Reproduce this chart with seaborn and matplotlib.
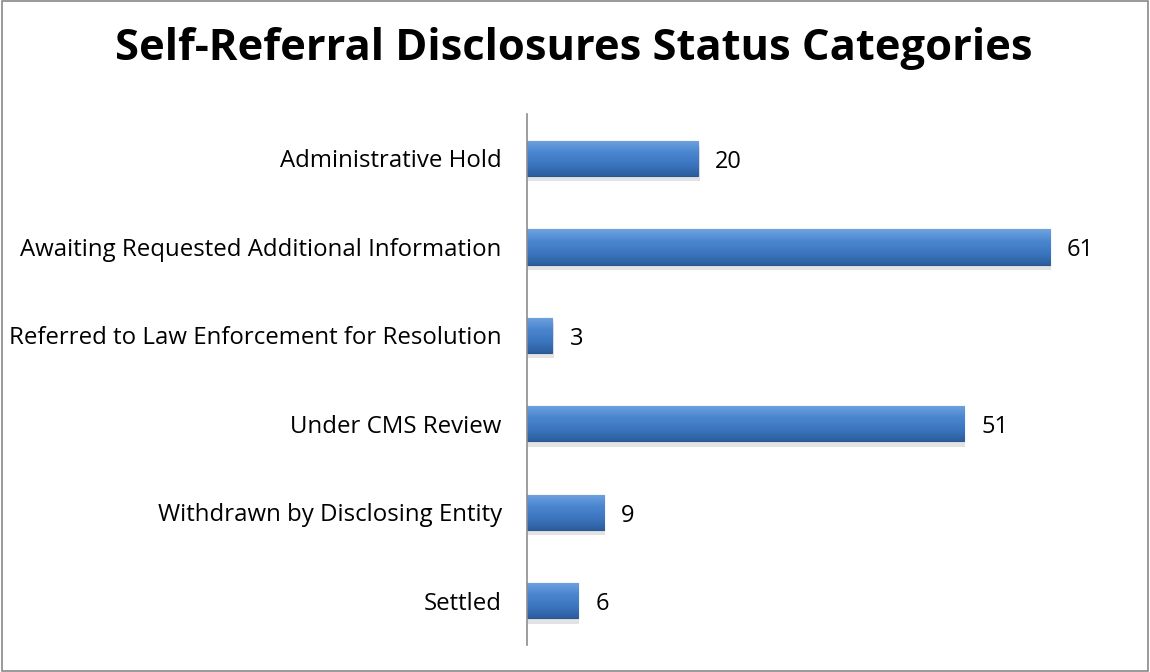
import numpy as np
import pandas as pd
import matplotlib

matplotlib.use('Agg')
import matplotlib.pyplot as plt
import seaborn as sns
from matplotlib.colors import LinearSegmentedColormap

categories = [
    "Administrative Hold",
    "Awaiting Requested Additional Information",
    "Referred to Law Enforcement for Resolution",
    "Under CMS Review",
    "Withdrawn by Disclosing Entity",
    "Settled",
]
counts = [20, 61, 3, 51, 9, 6]
title = "Self-Referral Disclosures Status Categories"

df = pd.DataFrame({"status": categories, "count": counts})

sns.set_theme(style="white")
plt.rcParams['font.family'] = ['Open Sans', 'DejaVu Sans']

fig = plt.figure(figsize=(11.5, 6.72), dpi=100)
ax = fig.add_axes([0.458, 0.0402, 0.522, 0.790])

sns.barplot(data=df, x="count", y="status", orient="h", color="#3d76c0",
            width=0.40, edgecolor="#2a5690", linewidth=0.8, ax=ax)

# bevel-ish vertical gradient on each bar
grad = LinearSegmentedColormap.from_list("bev", ["#6fa3e0", "#4a86cf", "#3d76c0", "#2c5e9f"])
for p in ax.patches:
    x0, y0 = p.get_x(), p.get_y()
    w, h = p.get_width(), p.get_height()
    img = ax.imshow(np.linspace(0, 1, 50).reshape(-1, 1), cmap=grad, aspect="auto",
                    extent=[x0, x0 + w, y0 + h, y0], zorder=p.get_zorder() + 0.1)
    img.set_clip_path(p)
    # soft shadow beneath bar
    ax.add_patch(plt.Rectangle((x0 + 0.15, y0 + 0.06), w, h, color="#b0b0b0", alpha=0.35,
                               zorder=p.get_zorder() - 0.5, lw=0))

for i, v in enumerate(counts):
    ax.text(v + 2.0, i + 0.04, str(v), va="center", ha="left", fontsize=17, color="black")

ax.set_xlim(0, 70)
ax.set_ylim(len(categories) - 0.5, -0.5)
ax.set_xlabel("")
ax.set_ylabel("")
ax.set_xticks([])
ax.tick_params(axis="y", length=0, pad=18, labelsize=17.3, labelcolor="black")
for lab in ax.get_yticklabels():
    lab.set_va("center_baseline")
for s in ["top", "right", "bottom"]:
    ax.spines[s].set_visible(False)
ax.spines["left"].set_color("#8c8c8c")
ax.spines["left"].set_linewidth(1.2)

fig.text(0.499, 0.9107, title, ha="center", va="baseline", fontsize=31.3, fontweight="bold",
         color="black")

fig.patches.append(plt.Rectangle((0.0015, 0.002), 0.997, 0.996, transform=fig.transFigure,
                                 fill=False, edgecolor="#898989", linewidth=1.2))

fig.savefig("out.png", dpi=100)
